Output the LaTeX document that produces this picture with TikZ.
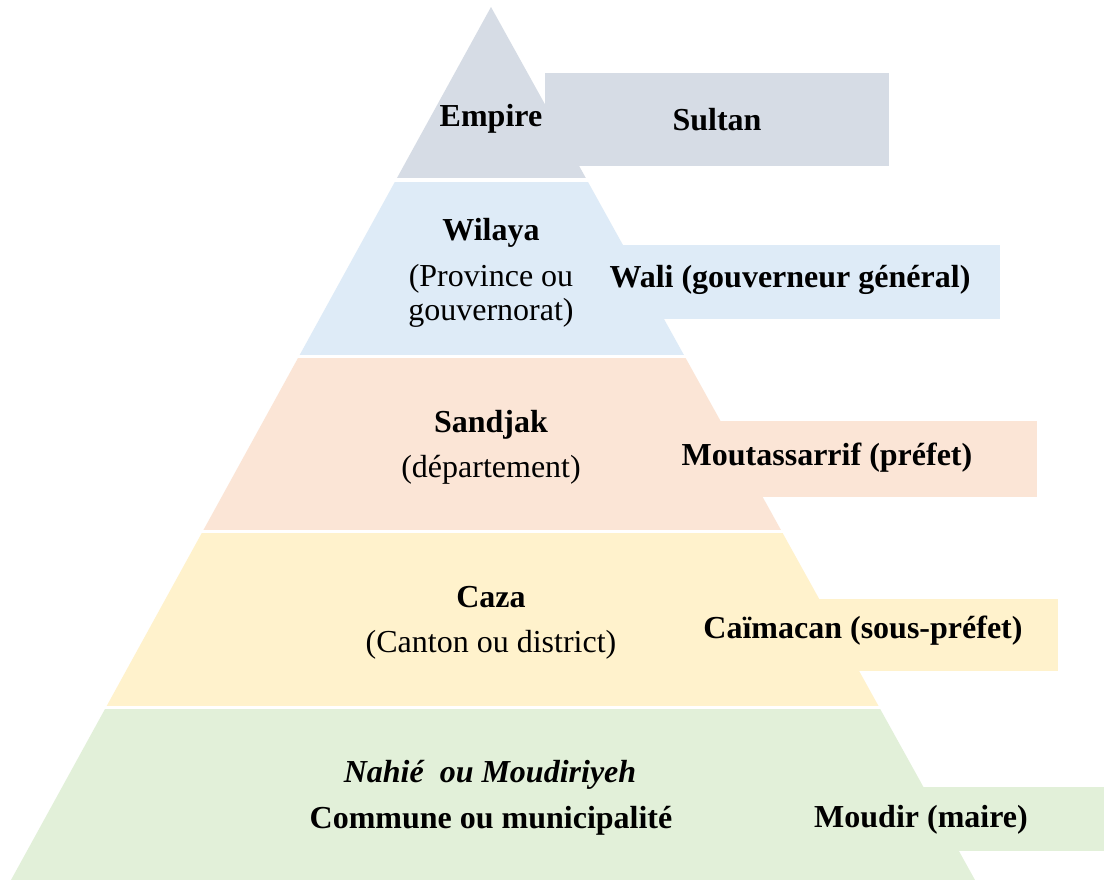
\documentclass[tikz,border=0pt]{standalone}
\usepackage{fontspec}
\setmainfont{Liberation Serif}
\definecolor{cEmp}{HTML}{D6DCE5}
\definecolor{cWil}{HTML}{DEEBF7}
\definecolor{cSan}{HTML}{FBE5D6}
\definecolor{cCaz}{HTML}{FFF2CC}
\definecolor{cNah}{HTML}{E2F0D9}
\begin{document}
\begin{tikzpicture}[x=0.5pt,y=-0.5pt,
  lbl/.style={inner sep=0pt,anchor=base,font=\fontsize{16}{18}\selectfont\bfseries},
  sub/.style={inner sep=0pt,anchor=base,font=\fontsize{16}{18}\selectfont}]
\useasboundingbox (0,0) rectangle (1104,880);
\fill[white] (0,0) rectangle (1104,880);
% pyramid bands
\begin{scope}
\clip (491,7) -- (11,880) -- (975,880) -- cycle;
\fill[cEmp] (0,0) rectangle (1104,178);
\fill[cWil] (0,182) rectangle (1104,354.5);
\fill[cSan] (0,357.5) rectangle (1104,530);
\fill[cCaz] (0,533) rectangle (1104,706);
\fill[cNah] (0,708.5) rectangle (1104,880);
\end{scope}
% side boxes
\fill[cEmp] (545,73) rectangle (889,166);
\fill[cWil] (560,245) rectangle (1000,319);
\fill[cSan] (650,421) rectangle (1037,497);
\fill[cCaz] (750,599) rectangle (1058,671);
\fill[cNah] (850,787) rectangle (1104,851);
% texts
\node[lbl] (empire) at (491,126) {Empire};
\node[lbl] (sultan) at (717,130) {Sultan};
\node[lbl] (wilaya) at (491,240) {Wilaya};
\node[sub] (prov1) at (491,286) {(Province ou};
\node[sub] (prov2) at (491,320) {gouvernorat)};
\node[lbl] (wali) at (790,287) {Wali (gouverneur général)};
\node[lbl] (sandjak) at (491,432) {Sandjak};
\node[sub] (dept) at (491,477) {(département)};
\node[lbl] (mout) at (827,465) {Moutassarrif (préfet)};
\node[lbl] (caza) at (491,607) {Caza};
\node[sub] (canton) at (491,652) {(Canton ou district)};
\node[lbl] (caim) at (863,638) {Caïmacan (sous-préfet)};
\node[lbl,font=\fontsize{16}{18}\selectfont\bfseries\itshape] (nahie) at (490,782) {Nahié\ \ ou Moudiriyeh};
\node[lbl] (commune) at (491,828) {Commune ou municipalité};
\node[lbl] (moudir) at (921,827) {Moudir (maire)};
\end{tikzpicture}
\end{document}
